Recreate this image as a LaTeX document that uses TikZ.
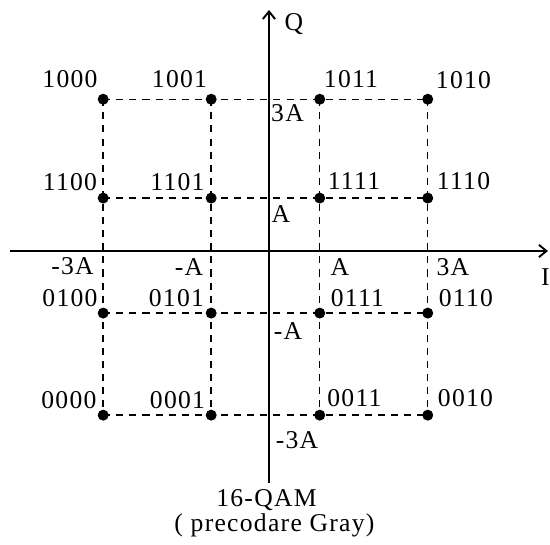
\documentclass[tikz,border=0pt]{standalone}
\usepackage{amsmath,amssymb}
\usepackage{fontspec}
\newfontfamily\qamfont[LetterSpace=5]{Liberation Serif}
\usetikzlibrary{positioning,calc,arrows.meta}

\begin{document}
\begin{tikzpicture}[
	qdot/.style={circle,fill=black,inner sep=0pt,minimum size=5.8pt},
	gridline/.style={dash pattern=on 3.7pt off 3.2pt,line width=0.75pt},
	axis/.style={line width=1pt,-{Straight Barb[length=4pt,width=6.5pt]}},
	lbl/.style={inner sep=0pt,font=\qamfont\fontsize{13.5}{14}\selectfont}]
		\useasboundingbox (-4.981,-5.444) rectangle (5.204,4.648);
		
		% constellation points
		\node[qdot] (p1000) at (-3.07,2.81) {};
		\node[qdot] (p1001) at (-1.07,2.81) {};
		\node[qdot] (p1011) at (0.94,2.81) {};
		\node[qdot] (p1010) at (2.94,2.81) {};
		\node[qdot] (p1100) at (-3.07,0.98) {};
		\node[qdot] (p1101) at (-1.07,0.98) {};
		\node[qdot] (p1111) at (0.94,0.98) {};
		\node[qdot] (p1110) at (2.94,0.98) {};
		\node[qdot] (p0100) at (-3.07,-1.15) {};
		\node[qdot] (p0101) at (-1.07,-1.15) {};
		\node[qdot] (p0111) at (0.94,-1.15) {};
		\node[qdot] (p0110) at (2.94,-1.15) {};
		\node[qdot] (p0000) at (-3.07,-3.04) {};
		\node[qdot] (p0001) at (-1.07,-3.04) {};
		\node[qdot] (p0011) at (0.94,-3.04) {};
		\node[qdot] (p0010) at (2.94,-3.04) {};
		
		% dashed grid
		\draw[gridline] (p1000.center) -- (p1010.center);
		\draw[gridline] (p1100.center) -- (p1110.center);
		\draw[gridline] (p0100.center) -- (p0110.center);
		\draw[gridline] (p0000.center) -- (p0010.center);
		\draw[gridline] (p1000.center) -- (p0000.center);
		\draw[gridline] (p1001.center) -- (p0001.center);
		\draw[gridline] (p1011.center) -- (p0011.center);
		\draw[gridline] (p1010.center) -- (p0010.center);
		
		% axes
		\coordinate (iL) at (-4.796,0);
		\coordinate (iR) at (5.167,0);
		\coordinate (qB) at (0,-4.296);
		\coordinate (qT) at (0,4.463);
		\draw[axis] (iL) -- (iR);
		\draw[axis] (qB) -- (qT);
		\node[lbl] (labQ) at (0.463,4.2) {Q};
		\node[lbl] (labI) at (5.12,-0.481) {I};
		
		% codewords
		\node[lbl] (c1000) at (-3.685,3.185) {1000};
		\node[lbl] (c1001) at (-1.657,3.185) {1001};
		\node[lbl] (c1011) at (1.519,3.185) {1011};
		\node[lbl] (c1010) at (3.602,3.167) {1010};
		\node[lbl] (c1100) at (-3.685,1.278) {1100};
		\node[lbl] (c1101) at (-1.694,1.278) {1101};
		\node[lbl] (c1111) at (1.574,1.287) {1111};
		\node[lbl] (c1110) at (3.602,1.287) {1110};
		\node[lbl] (c0100) at (-3.685,-0.880) {0100};
		\node[lbl] (c0101) at (-1.713,-0.880) {0101};
		\node[lbl] (c0111) at (1.639,-0.880) {0111};
		\node[lbl] (c0110) at (3.648,-0.880) {0110};
		\node[lbl] (c0000) at (-3.704,-2.759) {0000};
		\node[lbl] (c0001) at (-1.694,-2.759) {0001};
		\node[lbl] (c0011) at (1.583,-2.731) {0011};
		\node[lbl] (c0010) at (3.639,-2.731) {0010};
		
		% amplitude levels
		\node[lbl] (tiA) at (-3.639,-0.287) {-3A};
		\node[lbl] (tiB) at (-1.481,-0.296) {-A};
		\node[lbl] (tiC) at (1.315,-0.296) {A};
		\node[lbl] (tiD) at (3.407,-0.296) {3A};
		\node[lbl] (tqA) at (0.343,2.556) {3A};
		\node[lbl] (tqB) at (0.222,0.685) {A};
		\node[lbl] (tqC) at (0.352,-1.481) {-A};
		\node[lbl] (tqD) at (0.519,-3.5) {-3A};
		
		\node[lbl,anchor=base] (cap1) at (-0.046,-4.74) {16-QAM};
		\node[lbl,anchor=base] (cap2) at (0.102,-5.2) {( precodare Gray)};
	\end{tikzpicture}
\end{document}
